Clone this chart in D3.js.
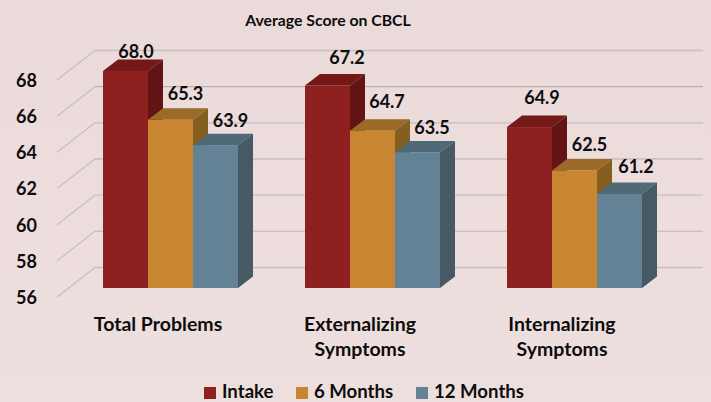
<!DOCTYPE html>
<html>
<head>
<meta charset="utf-8">
<script src="https://cdn.jsdelivr.net/npm/d3@7"></script>
<style>
  html, body { margin: 0; padding: 0; background: #ecdcdc; overflow: hidden; }
  text { font-family: Lato, "Open Sans", sans-serif; font-weight: 700; fill: #0d0d0d; }
</style>
</head>
<body>
<svg id="chart" width="711" height="402"></svg>
<script>
const categories = [["Total Problems"], ["Externalizing", "Symptoms"], ["Internalizing", "Symptoms"]];
const seriesNames = ["Intake", "6 Months", "12 Months"];
const intake = [68.0, 67.2, 64.9];
const sixMonths = [65.3, 64.7, 62.5];
const twelveMonths = [63.9, 63.5, 61.2];
const yTicks = [56, 58, 60, 62, 64, 66, 68];

// hand placed labels in the original, nudges per series then per category
const labelNudgeX = [[10.5, 19.5, 12.5], [15, 14.5, 15], [15, 14.5, 16.5]];
const labelNudgeY = [[-19, -28, -30], [-26, -29, -26], [-25, -25, -27]];

const seriesValues = [intake, sixMonths, twelveMonths];
const frontColors = ["#8f2020", "#c88532", "#648296"];
const topColors = ["#751818", "#9b6a28", "#4f6a76"];
const sideColors = ["#641414", "#855f20", "#455a64"];

const svg = d3.select("#chart");

// soft vertical wash of the slide background
const grad = svg.append("defs").append("linearGradient")
  .attr("id", "bg").attr("x1", 0).attr("y1", 0).attr("x2", 0).attr("y2", 1);
grad.append("stop").attr("offset", "0%").attr("stop-color", "#ebdada");
grad.append("stop").attr("offset", "100%").attr("stop-color", "#eedfdf");
svg.append("rect").attr("width", 711).attr("height", 402).attr("fill", "url(#bg)");

const y = d3.scaleLinear().domain([56, 68]).range([288, 71]);
const x0 = d3.scaleBand().domain(d3.range(categories.length)).range([103, 709]).padding(0);
const x1 = d3.scaleBand().domain(d3.range(seriesNames.length)).range([0, 135]);

const depthX = 15;
const depthY = 11.5;

// back wall grid and the slanted floor lines
const grid = svg.append("g");
grid.selectAll("line.back").data(yTicks).join("line")
  .attr("class", "back")
  .attr("x1", 95).attr("x2", 703)
  .attr("y1", d => y(d) - 20.5).attr("y2", d => y(d) - 20.5)
  .attr("stroke", d => d === 66 ? "#bcaeae" : "#c9bdbd")
  .attr("stroke-width", 1.3);
grid.selectAll("line.side").data(yTicks).join("line")
  .attr("class", "side")
  .attr("x1", 57).attr("x2", 95)
  .attr("y1", d => y(d) + 9).attr("y2", d => y(d) - 20.5)
  .attr("stroke", "#c9bdbd")
  .attr("stroke-width", 1.2);

// y axis labels
const axis = d3.axisLeft(y).tickValues(yTicks).tickSize(0).tickPadding(0);
const axisG = svg.append("g").attr("transform", "translate(37,9)").call(axis);
axisG.select(".domain").remove();
axisG.selectAll("text")
  .style("font-family", "Lato, sans-serif")
  .style("font-weight", 700)
  .style("font-size", "18px")
  .attr("dy", "0.36em");

// bars, back series order so each one overlaps the previous side face
seriesValues.forEach((values, s) => {
  const g = svg.append("g");
  values.forEach((v, c) => {
    const left = x0(c) + x1(s);
    const right = left + x1.bandwidth();
    const top = y(v);
    const bottom = y(56);
    g.append("polygon")
      .attr("points", [[left, top], [right, top], [right + depthX, top - depthY], [left + depthX, top - depthY]].join(" "))
      .attr("fill", topColors[s]);
    g.append("polygon")
      .attr("points", [[right, top], [right + depthX, top - depthY], [right + depthX, bottom - depthY], [right, bottom]].join(" "))
      .attr("fill", sideColors[s]);
    g.append("rect")
      .attr("x", left).attr("y", top)
      .attr("width", x1.bandwidth()).attr("height", bottom - top)
      .attr("fill", frontColors[s]);
  });
});

// value labels
seriesValues.forEach((values, s) => {
  values.forEach((v, c) => {
    svg.append("text")
      .attr("x", x0(c) + x1(s) + x1.bandwidth() / 2 + labelNudgeX[s][c])
      .attr("y", y(v) + labelNudgeY[s][c])
      .attr("dy", "0.36em")
      .attr("text-anchor", "middle")
      .style("font-size", "18px")
      .text(v.toFixed(1));
  });
});

// category labels
categories.forEach((lines, c) => {
  lines.forEach((line, i) => {
    svg.append("text")
      .attr("x", x0(c) + 55)
      .attr("y", 331 + i * 25)
      .attr("text-anchor", "middle")
      .style("font-size", "19.5px")
      .text(line);
  });
});

// title
svg.append("text")
  .attr("x", 328).attr("y", 26)
  .attr("text-anchor", "middle")
  .style("font-size", "15.8px")
  .text("Average Score on CBCL");

// legend
const legendX = [204, 296, 416];
seriesNames.forEach((name, s) => {
  svg.append("rect")
    .attr("x", legendX[s]).attr("y", 387)
    .attr("width", 12).attr("height", 12)
    .attr("fill", frontColors[s]);
  svg.append("text")
    .attr("x", legendX[s] + 18).attr("y", 397.5)
    .style("font-size", "18.6px")
    .text(name);
});
</script>
</body>
</html>
